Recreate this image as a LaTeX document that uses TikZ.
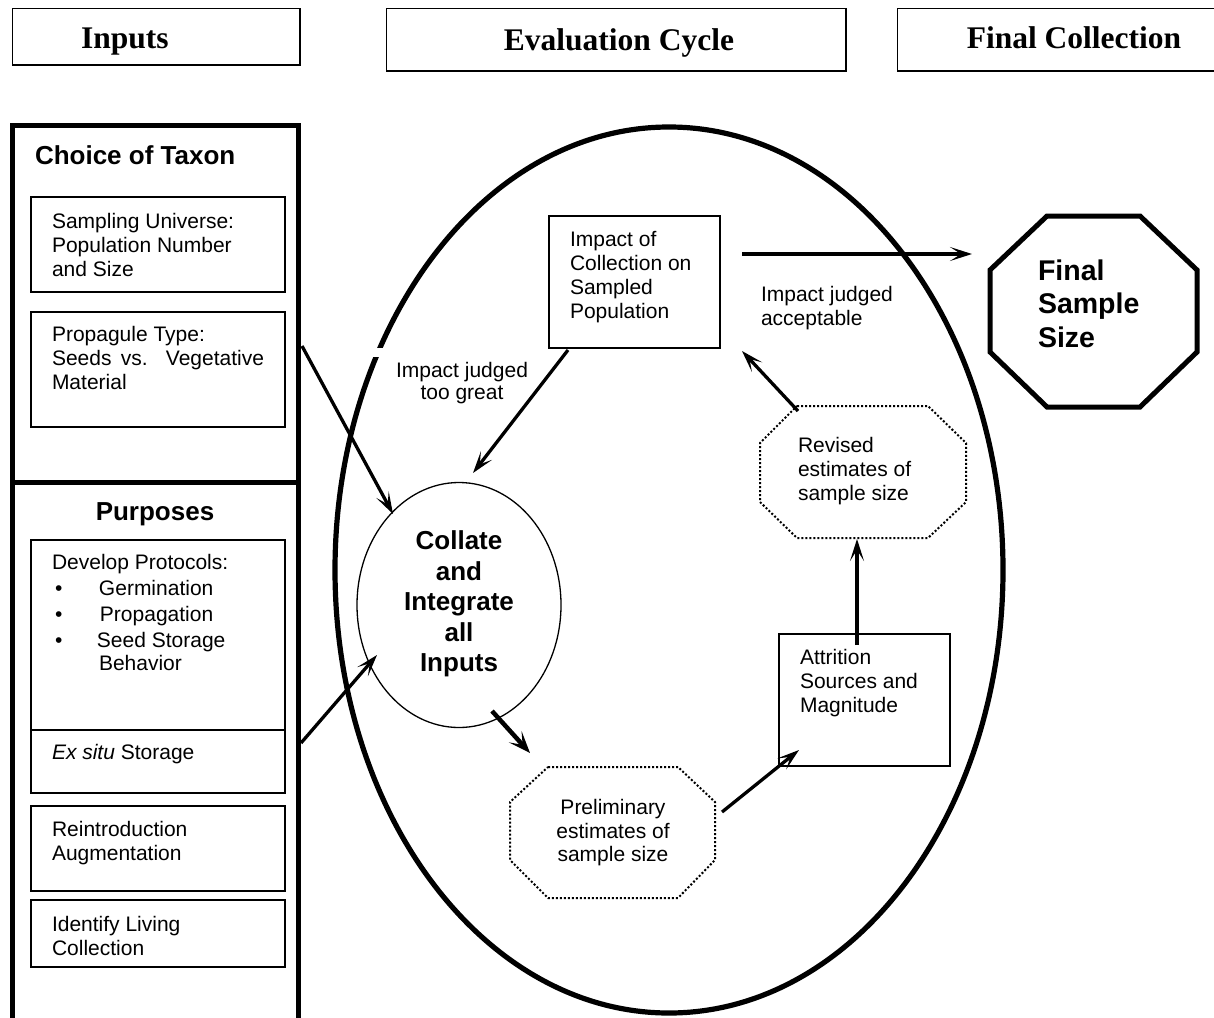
\documentclass[tikz,border=0pt]{standalone}
\usepackage{fontspec}
\setmainfont{Liberation Serif}
\newfontfamily\arialf{Liberation Sans}
\usetikzlibrary{arrows.meta,shapes.geometric}
\newcommand\hdrf{\fontsize{31.5}{36}\selectfont\bfseries}
\newcommand\bodyf{\arialf\fontsize{21}{24}\selectfont}
\newcommand\headf{\arialf\bfseries\fontsize{26}{30.5}\selectfont}
\newcommand\finalf{\arialf\bfseries\fontsize{28.5}{33.5}\selectfont}
\begin{document}
\begin{tikzpicture}[x=1pt,y=-1pt,
  every node/.style={inner sep=0pt,outer sep=0pt},
  hdrbox/.style={draw,line width=0.9pt,anchor=north west},
  ibox/.style={draw,line width=1.4pt,anchor=north west},
  panel/.style={draw,line width=5pt,anchor=north west},
  txt/.style={font=\bodyf,align=left,anchor=north west},
  ctxt/.style={font=\bodyf,align=center,anchor=north},
  conn/.style={line width=3.3pt,-{Stealth[length=22pt,width=14pt,inset=11pt]}},
  dotoct/.style={line width=2pt,dotted,line join=miter},
  shadowline/.style={line width=2.6pt}
]
\fill[white] (0,0) rectangle (1214,1017);
\useasboundingbox (0,0) rectangle (1214,1017);

% headers
\node[hdrbox,minimum width=288pt,minimum height=57pt] (hInputs) at (12,8) {};
\node[hdrbox,minimum width=460pt,minimum height=63pt] (hEval) at (386,8) {};
\node[hdrbox,minimum width=322pt,minimum height=63pt] (hFinal) at (897,8) {};
\draw[shadowline] (hInputs.south west) -- (hInputs.south east) -- (hInputs.north east);
\draw[shadowline] (hEval.south west) -- (hEval.south east) -- (hEval.north east);
\draw[shadowline] (hFinal.south west) -- (hFinal.south east);
\node[font=\hdrf,anchor=base west] (tInputs) at (81,48) {Inputs};
\node[font=\hdrf,anchor=base] (tEval) at (619,50) {Evaluation Cycle};
\node[font=\hdrf,anchor=base] (tFinal) at (1074,48) {Final Collection};

% left panels
\node[panel,minimum width=286pt,minimum height=357pt] (taxonPanel) at (12,125) {};
\node[panel,minimum width=286pt,minimum height=545pt] (purpPanel) at (12,482) {};
\node[font=\headf,anchor=base west] (taxTitle) at (35,164) {Choice of Taxon};
\node[font=\headf,anchor=base] (purpTitle) at (155,520) {Purposes};

\node[ibox,minimum width=254pt,minimum height=95pt] (sampBox) at (31,197) {};
\node[ibox,minimum width=254pt,minimum height=115pt] (propBox) at (31,312) {};
\node[ibox,minimum width=254pt,minimum height=190pt] (devBox) at (31,540) {};
\node[ibox,minimum width=254pt,minimum height=63pt] (exBox) at (31,730) {};
\node[ibox,minimum width=254pt,minimum height=85pt] (reBox) at (31,806) {};
\node[ibox,minimum width=254pt,minimum height=67pt] (idBox) at (31,900) {};

\node[txt] (sampTxt) at (52,213.7) {Sampling Universe:\\Population Number\\and Size};
\node[txt] (propTxt) at (52,326.7) {Propagule Type:\\\makebox[212pt][s]{Seeds vs. Vegetative}\\Material};
\node[txt] (devTxt) at (52,554.7) {Develop Protocols:\\[2pt]
\makebox[47pt][l]{\hspace{3pt}\textbullet}Germination\\[2pt]
\makebox[48pt][l]{\hspace{3pt}\textbullet}Propagation\\[2pt]
\makebox[45pt][l]{\hspace{3pt}\textbullet}Seed Storage\\[-1pt]
\hspace*{47pt}Behavior};
\node[font=\bodyf,anchor=base west] (exTxt) at (52,759) {\textit{Ex situ} Storage};
\node[txt] (reTxt) at (52,821.7) {Reintroduction\\Augmentation};
\node[txt] (idTxt) at (52,916.7) {Identify Living\\Collection};

% evaluation cycle
\node[draw,ellipse,line width=5.2pt,minimum width=668pt,minimum height=886pt] (cycle) at (669,570) {};
\fill[white] (368,348) rectangle (390,357);

\node[draw,ellipse,line width=1.3pt,minimum width=204pt,minimum height=245pt] (collate) at (459,605) {};
\node[font=\headf,align=center,anchor=north] (collTxt) at (459,531) {Collate\\and\\Integrate\\all\\Inputs};

\node[ibox,minimum width=171pt,minimum height=132pt] (impBox) at (549,216) {};
\node[txt] (impTxt) at (570,231.7) {Impact of\\Collection on\\Sampled\\Population};
\node[txt] (accTxt) at (761,286.7) {Impact judged\\acceptable};
\node[ctxt] (greatTxt) at (462,362.7) {Impact judged\\[-2pt]too great};

\node[ibox,minimum width=171pt,minimum height=132pt] (attrBox) at (779,634) {};
\node[txt] (attrTxt) at (800,649.7) {Attrition\\Sources and\\Magnitude};

\draw[dotoct] (548,767) -- (678,767) -- (715,802) -- (715,860) -- (678,898) -- (548,898) -- (510,860) -- (510,802) -- cycle;
\node[ctxt] (prelimTxt) at (613,799.7) {Preliminary\\[-0.5pt]estimates of\\[-0.5pt]sample size};

\draw[dotoct] (797,406) -- (928,406) -- (966,443) -- (966,502) -- (928,538) -- (797,538) -- (760,502) -- (760,443) -- cycle;
\node[txt] (revTxt) at (798,437.7) {Revised\\estimates of\\sample size};

% final
\draw[line width=5pt,line join=miter] (1047,216) -- (1140,216) -- (1197,270) -- (1197,352) -- (1140,407) -- (1047,407) -- (990,352) -- (990,270) -- cycle;
\node[font=\finalf,align=left,anchor=north west] (finTxt) at (1038,259.5) {Final\\Sample\\Size};

% connectors
\coordinate (aPropS) at (302,346);
\coordinate (aPropE) at (393,514);
\coordinate (aExS) at (301,743);
\coordinate (aExE) at (377,655);
\coordinate (aImpS) at (568,350);
\coordinate (aImpE) at (473,473);
\coordinate (aFinS) at (742,254);
\coordinate (aFinE) at (972,254);
\coordinate (aColS) at (492,711);
\coordinate (aColE) at (530,753);
\coordinate (aPreS) at (722,812);
\coordinate (aPreE) at (799,750);
\coordinate (aAttS) at (857,645);
\coordinate (aAttE) at (857,539);
\coordinate (aRevS) at (798,411);
\coordinate (aRevE) at (742,351);

\draw[conn] (aPropS) -- (aPropE);
\draw[conn] (aExS) -- (aExE);
\draw[conn] (aImpS) -- (aImpE);
\draw[conn] (aFinS) -- (aFinE);
\draw[line width=4.5pt,-{Stealth[length=22pt,width=17pt,inset=11pt]}] (aColS) -- (aColE);
\draw[conn] (aPreS) -- (aPreE);
\draw[conn,line width=3.6pt] (aAttS) -- (aAttE);
\draw[conn] (aRevS) -- (aRevE);
\end{tikzpicture}
\end{document}
